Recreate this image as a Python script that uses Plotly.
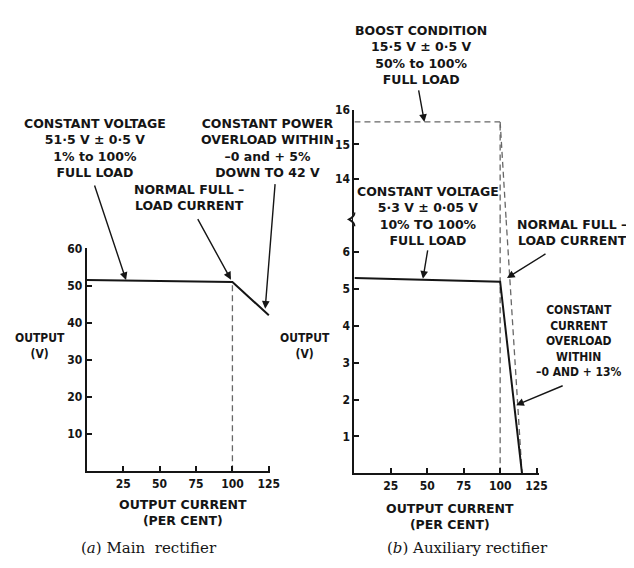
import plotly.graph_objects as go

# ---------------- data ----------------
# (a) Main rectifier
main_current = [0, 100, 125]
main_voltage = [51.5, 51.0, 42.0]
main_fullload_current = [100, 100]
main_fullload_voltage = [0, 51.0]
main_x_ticks = [25, 50, 75, 100, 125]
main_y_ticks = [10, 20, 30, 40, 50, 60]

# (b) Auxiliary rectifier (voltage axis broken between ~6.9 V and ~12.8 V)
aux_current = [0, 100, 115]
aux_voltage = [5.3, 5.2, 0.0]
aux_fullload_current = [100, 100]
aux_fullload_voltage_low = [0, 6.9]
aux_fullload_voltage_high = [12.8, 15.65]
boost_current = [0, 100]
boost_voltage = [15.65, 15.65]
boost_overload_current_high = [100, 104.1]
boost_overload_voltage_high = [15.65, 12.83]
boost_overload_current_low = [104.1, 115]
boost_overload_voltage_low = [6.89, 0.0]
aux_x_ticks = [25, 50, 75, 100, 125]
aux_y_ticks_low = [1, 2, 3, 4, 5, 6]
aux_y_ticks_high = [14, 15, 16]

# ---------------- layout helpers ----------------
W, H = 634, 568
def px(x):
    return x / W
def py(y):
    return 1 - y / H

COND = "DejaVu Sans Condensed, Liberation Sans Narrow, sans-serif"
WIDE = "DejaVu Sans, Liberation Sans, sans-serif"
INK = "#151515"
DASH = "#666666"

fig = go.Figure()

solid = dict(color=INK, width=2)
dashed = dict(color=DASH, width=1.3, dash="6px,4px")

fig.add_trace(go.Scatter(x=main_current, y=main_voltage, mode="lines", line=solid,
                         xaxis="x", yaxis="y", hoverinfo="skip"))
fig.add_trace(go.Scatter(x=main_fullload_current, y=main_fullload_voltage, mode="lines",
                         line=dashed, xaxis="x", yaxis="y", hoverinfo="skip"))

fig.add_trace(go.Scatter(x=aux_fullload_current, y=aux_fullload_voltage_low, mode="lines",
                         line=dashed, xaxis="x2", yaxis="y3", hoverinfo="skip"))
fig.add_trace(go.Scatter(x=aux_fullload_current, y=aux_fullload_voltage_high, mode="lines",
                         line=dashed, xaxis="x2", yaxis="y4", hoverinfo="skip"))
fig.add_trace(go.Scatter(x=boost_current, y=boost_voltage, mode="lines",
                         line=dashed, xaxis="x2", yaxis="y4", hoverinfo="skip"))
fig.add_trace(go.Scatter(x=boost_overload_current_high, y=boost_overload_voltage_high, mode="lines",
                         line=dashed, xaxis="x2", yaxis="y4", hoverinfo="skip"))
fig.add_trace(go.Scatter(x=boost_overload_current_low, y=boost_overload_voltage_low, mode="lines",
                         line=dashed, xaxis="x2", yaxis="y3", hoverinfo="skip"))
fig.add_trace(go.Scatter(x=aux_current, y=aux_voltage, mode="lines", line=solid,
                         xaxis="x2", yaxis="y3", hoverinfo="skip"))

tickfont = dict(family=COND, size=12, color=INK, weight="bold")
axis_common = dict(showline=True, linecolor=INK, linewidth=2, ticks="inside", ticklen=5,
                   tickwidth=1.5, tickcolor=INK, showgrid=False, zeroline=False,
                   tickfont=tickfont, fixedrange=True)

BREAK_Y = 207  # pixel row where the auxiliary voltage axis is broken

fig.update_layout(
    width=W, height=H, margin=dict(l=0, r=0, t=0, b=0),
    paper_bgcolor="white", plot_bgcolor="rgba(0,0,0,0)", showlegend=False,
    xaxis=dict(domain=[px(80), px(266.5)], range=[0, 126], anchor="y",
               tickvals=main_x_ticks, **axis_common),
    yaxis=dict(domain=[py(462), py(236.4)], range=[0, 60], anchor="x",
               tickvals=main_y_ticks, **axis_common),
    xaxis2=dict(domain=[px(352), px(540)], range=[0, 127], anchor="y3",
                tickvals=aux_x_ticks, **axis_common),
    yaxis3=dict(domain=[py(464), py(BREAK_Y)], range=[0, (464 - BREAK_Y) / 37.3], anchor="x2",
                tickvals=aux_y_ticks_low, **axis_common),
    yaxis4=dict(domain=[py(BREAK_Y), py(96)], range=[16.0 - (BREAK_Y - 96) / 35.0, 16.0],
                anchor="x2", tickvals=aux_y_ticks_high, **axis_common),
)

# axis break squiggle on the auxiliary voltage axis
fig.add_shape(type="line", xref="paper", yref="paper", layer="above",
              x0=px(352), x1=px(352), y0=py(BREAK_Y - 6), y1=py(BREAK_Y + 6),
              line=dict(color="white", width=3))
pts = [(352, BREAK_Y - 7), (352, BREAK_Y - 3), (346.5, BREAK_Y), (352, BREAK_Y + 3), (352, BREAK_Y + 7)]
p = [(px(a), py(b)) for a, b in pts]
path = (f"M {p[0][0]},{p[0][1]} Q {p[1][0]},{p[1][1]} {p[2][0]},{p[2][1]} "
        f"Q {p[3][0]},{p[3][1]} {p[4][0]},{p[4][1]}")
fig.add_shape(type="path", path=path, xref="paper", yref="paper", layer="above",
              line=dict(color=INK, width=2))

block = dict(family=WIDE, size=12.5, color=INK, weight="bold")
narrow = dict(family=COND, size=12, color=INK, weight="bold")
ylab = dict(family=COND, size=12, color=INK, weight="bold")
xlab = dict(family=WIDE, size=12.5, color=INK, weight="bold")

def text(cx, cy, s, font):
    fig.add_annotation(x=px(cx), y=py(cy), xref="paper", yref="paper", text=s,
                       showarrow=False, xanchor="center", yanchor="middle",
                       align="center", font=font)

def arrow(x, y, xr, yr, ax, ay):
    fig.add_annotation(x=x, y=y, xref=xr, yref=yr, text="", showarrow=True,
                       ax=ax, ay=ay, arrowhead=2, arrowsize=1.1, arrowwidth=1.4,
                       arrowcolor=INK, standoff=0, startstandoff=0)

# (a) labels
text(88, 134.5, "CONSTANT VOLTAGE<br>51·5 V ± 0·5 V<br>1% to 100%<br>FULL LOAD", block)
text(264, 134.5, "CONSTANT POWER<br>OVERLOAD WITHIN<br>–0 and + 5%<br>DOWN TO 42 V", block)
text(184, 184.5, "NORMAL FULL –<br>LOAD CURRENT", block)
text(33, 335, "OUTPUT<br>(V)", ylab)
text(178, 503.5, "OUTPUT CURRENT<br>(PER CENT)", xlab)

arrow(27, 51.5, "x", "y", -32, -96)
arrow(99, 51.6, "x", "y", -34, -62)
arrow(122.5, 43.8, "x", "y", 10, -126)

# (b) labels
text(420, 40, "BOOST CONDITION<br>15·5 V ± 0·5 V<br>50% to 100%<br>FULL LOAD", block)
text(427, 204, "CONSTANT VOLTAGE<br>5·3 V ± 0·05 V<br>10% TO 100%<br>FULL LOAD", block)
text(573, 220, "NORMAL FULL –<br>LOAD CURRENT", block)
text(580, 330, "CONSTANT<br>CURRENT<br>OVERLOAD<br>WITHIN<br>–0 AND + 13%", narrow)
text(302, 335, "OUTPUT<br>(V)", ylab)
text(449, 508, "OUTPUT CURRENT<br>(PER CENT)", xlab)

arrow(48, 15.65, "x2", "y4", -6, -33)
arrow(47, 5.28, "x2", "y3", 5, -30)
arrow(104.7, 5.3, "x2", "y3", 40, -25)
arrow(111, 1.85, "x2", "y3", 48, -20)

cap = dict(family="DejaVu Serif, Liberation Serif, serif", size=15, color=INK)
text(143, 540, "(<i>a</i>) Main  rectifier", cap)
text(467, 540, "(<i>b</i>) Auxiliary rectifier", cap)

fig.write_html("out.html")
